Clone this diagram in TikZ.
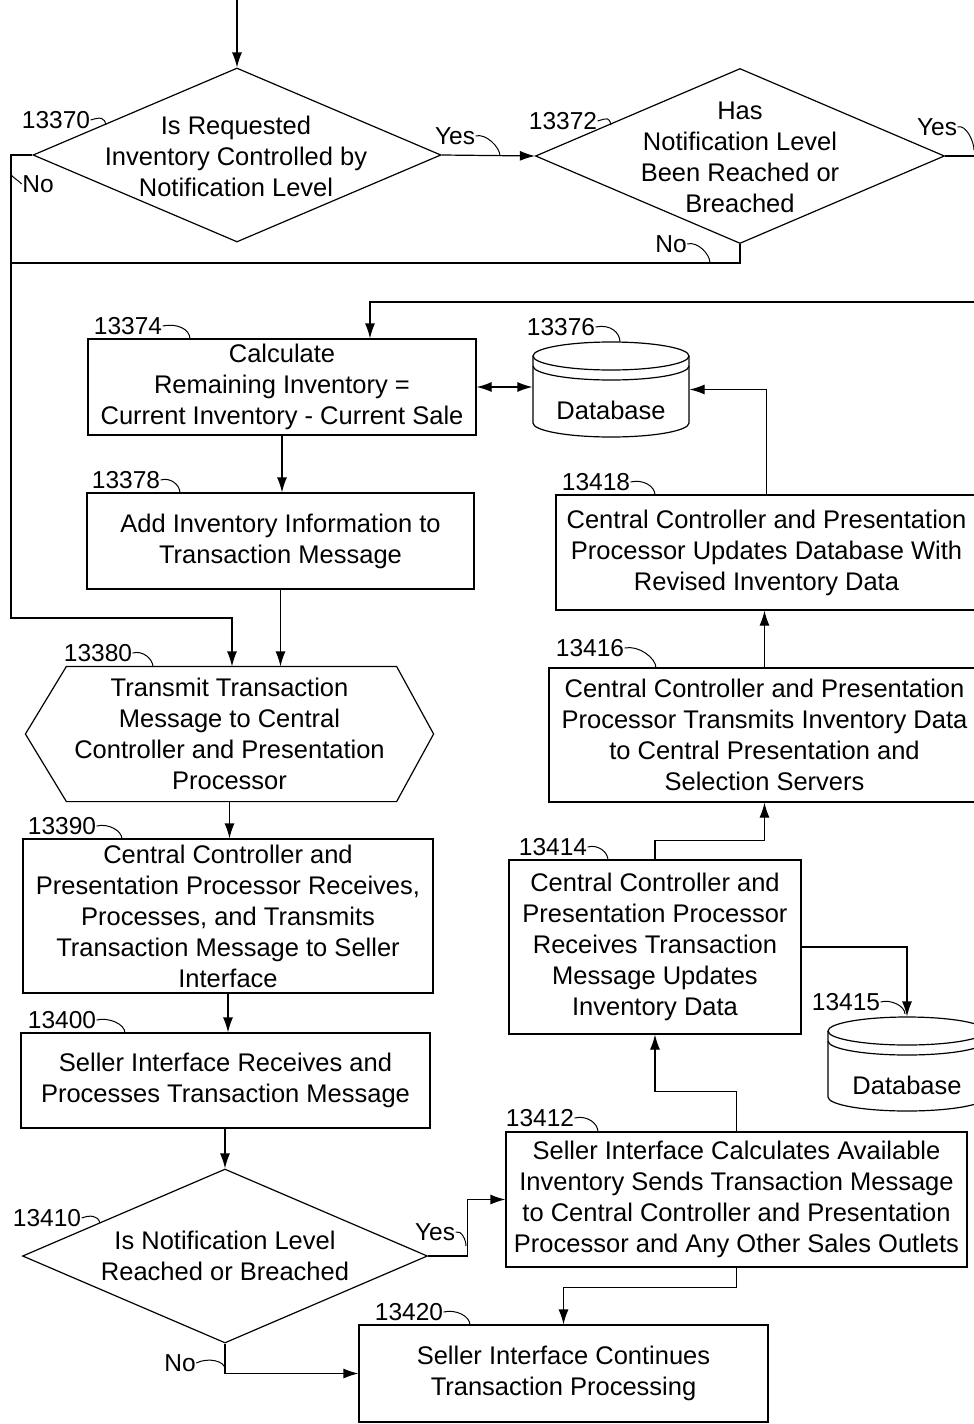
\documentclass[tikz,border=0pt]{standalone}
\usepackage{fontspec}
\setmainfont{Liberation Sans}
\usetikzlibrary{arrows.meta,shapes.geometric,calc}
\newcommand{\dbcyl}[5]{% cx, cy(top ellipse), rx, ry, bottom arc centre y
  \draw[fill=white] ({#1-#3},#2) -- ({#1-#3},#5)
    .. controls ({#1-#3},{#5+0.5523*#4}) and ({#1-0.5523*#3},{#5+#4}) .. ({#1},{#5+#4})
    .. controls ({#1+0.5523*#3},{#5+#4}) and ({#1+#3},{#5+0.5523*#4}) .. ({#1+#3},#5)
    -- ({#1+#3},#2);
  \draw (#1,#2) ellipse [x radius=#3pt, y radius=#4pt];
  \draw ({#1-#3},{#2+10})
    .. controls ({#1-#3},{#2+10+0.5523*#4}) and ({#1-0.5523*#3},{#2+10+#4}) .. ({#1},{#2+10+#4})
    .. controls ({#1+0.5523*#3},{#2+10+#4}) and ({#1+#3},{#2+10+0.5523*#4}) .. ({#1+#3},{#2+10});
}
\begin{document}
\begin{tikzpicture}[x=1pt,y=-1pt,
  line width=1.2pt,
  arr/.style={-{Latex[length=15pt,width=10pt]}},
  barr/.style={{Latex[length=15pt,width=10pt]}-{Latex[length=15pt,width=10pt]}},
  txt/.style={font=\fontsize{25.5}{31}\selectfont, align=center, inner sep=0pt},
  box/.style={draw, rectangle, inner sep=0pt, font=\fontsize{25.5}{31}\selectfont, align=center},
  dia/.style={draw, diamond, inner sep=0pt},
  ref/.style={font=\fontsize{24.5}{28}\selectfont, inner sep=0pt},
  lead/.style={line width=1pt},
]
\fill[white] (0,0) rectangle (974,1424);
\useasboundingbox (0,0) rectangle (974,1424);
\clip (0,0) rectangle (974,1424);

% ---------- shapes ----------
\node[dia, minimum width=408, minimum height=174] (d1) at (237,155) {};
\node[txt] (d1t) at (236,156) {Is Requested\\Inventory Controlled by\\Notification Level};
\node[dia, minimum width=409, minimum height=175] (d2) at (740,156) {};
\node[txt] (d2t) at (740,157) {Has\\Notification Level\\Been Reached or\\Breached};

\node[box, minimum width=388, minimum height=96] (b1) at (282,387) {Calculate\\Remaining Inventory =\\Current Inventory - Current Sale};
\node[minimum width=156, minimum height=95, inner sep=0pt] (db1) at (611,389.5) {};
\dbcyl{611}{356}{78}{14}{423}
\node[txt] (db1t) at (611,410) {Database};

\node[box, minimum width=387, minimum height=96] (b2) at (280.5,541) {Add Inventory Information to\\Transaction Message};

\node[box, draw=none, minimum width=407, minimum height=134] (hex) at (229.5,734) {Transmit Transaction\\Message to Central\\Controller and Presentation\\Processor};
\draw (hex.west) -- ([xshift=41pt]hex.north west) -- ([xshift=-37pt]hex.north east) -- (hex.east)
  -- ([xshift=-37pt]hex.south east) -- ([xshift=41pt]hex.south west) -- cycle;

\node[box, minimum width=410, minimum height=154] (b3) at (228,916) {Central Controller and\\Presentation Processor Receives,\\Processes, and Transmits\\Transaction Message to Seller\\Interface};
\node[box, minimum width=409, minimum height=95] (b4) at (225.5,1080.5) {Seller Interface Receives and\\Processes Transaction Message};

\node[dia, minimum width=405, minimum height=174] (d3) at (225,1256) {};
\node[txt] (d3t) at (225,1256) {Is Notification Level\\Reached or Breached};

\node[box, minimum width=461, minimum height=135] (b5) at (736.5,1199.5) {Seller Interface Calculates Available\\Inventory Sends Transaction Message\\to Central Controller and Presentation\\Processor and Any Other Sales Outlets};
\node[box, minimum width=409, minimum height=97] (b6) at (563.5,1373.5) {Seller Interface Continues\\Transaction Processing};

\node[box, minimum width=292, minimum height=174] (b7) at (655,947) {Central Controller and\\Presentation Processor\\Receives Transaction\\Message Updates\\Inventory Data};
\node[minimum width=158, minimum height=93, inner sep=0pt] (db2) at (907,1063.5) {};
\dbcyl{907}{1031}{79}{14}{1097}
\node[txt] (db2t) at (907,1085) {Database};

\node[box, minimum width=431, minimum height=134] (b8) at (764.5,735) {Central Controller and Presentation\\Processor Transmits Inventory Data\\to Central Presentation and\\Selection Servers};
\node[box, minimum width=421, minimum height=115] (b9) at (766.5,552.5) {Central Controller and Presentation\\Processor Updates Database With\\Revised Inventory Data};

% ---------- connectors ----------
\coordinate (start) at (237,0);
\draw[arr] (start) -- (d1.north);
\draw[arr] (d1.east) -- (d2.west);
\coordinate (yR) at (990,156);
\draw (d2.east) -- (yR);
\coordinate (lt) at (11,155);
\coordinate (lb) at (11,618);
\coordinate (ln) at (11,263);
\coordinate (x232) at (232,0);
\draw[arr] (d1.west) -- (lt) -- (lb) -| (x232 |- hex.north);
\draw (d2.south) |- (ln);
\coordinate (rT) at (990,302);
\coordinate (x370) at (370,0);
\draw[arr] (rT) -| (x370 |- b1.north);
\draw[barr] (b1.east) -- (b1.east -| db1.west);
\draw[arr] (b9.north) |- (db1.east);
\draw[arr] (b1.south) -- (b1.south |- b2.north);
\draw[arr] (b2.south) -- (b2.south |- hex.north);
\draw[arr] (hex.south) -- (hex.south |- b3.north);
\draw[arr] (b3.south) -- (b3.south |- b4.north);
\draw[arr] (b4.south -| d3.north) -- (d3.north);
\draw[arr] (d3.east) -- ++(39,0) |- (b5.west);
\draw[arr] (d3.south) |- (b6.west);
\draw[arr] (b5.south) -- ++(0,20) -| (b6.north);
\draw[arr] (b5.north) -- ++(0,-40) -| (b7.south);
\draw[arr] (b7.east) -| (db2.north);
\draw[arr] (b7.north) -- ++(0,-19) -| (b8.south);
\draw[arr] (b8.north) -- (b8.north |- b9.south);

% ---------- reference numbers and labels ----------
\node[ref] (r13370) at (56,120) {13370};
\draw[lead] (r13370.east) .. controls +(10,-3) and +(-2,-8) .. (106,125);
\node[ref] (r13372) at (563,121) {13372};
\draw[lead] (r13372.east) .. controls +(10,-3) and +(-2,-8) .. (611,125);
\node[ref] (r13374) at (128,326) {13374};
\draw[lead] (r13374.east) .. controls +(14,-3) and +(0,-10) .. (190,339);
\node[ref] (r13376) at (561,327) {13376};
\draw[lead] (r13376.east) .. controls +(14,-3) and +(0,-10) .. (620,342);
\node[ref] (r13378) at (126,480) {13378};
\draw[lead] (r13378.east) .. controls +(10,-3) and +(0,-8) .. (180,493);
\node[ref] (r13418) at (596,482) {13418};
\draw[lead] (r13418.east) .. controls +(12,-3) and +(0,-9) .. (655,495);
\node[ref] (r13416) at (590,648) {13416};
\draw[lead] (r13416.east) .. controls +(14,-3) and +(0,-10) .. (656,668);
\node[ref] (r13380) at (98,653) {13380};
\draw[lead] (r13380.east) .. controls +(10,-3) and +(0,-8) .. (153,667);
\node[ref] (r13390) at (62,826) {13390};
\draw[lead] (r13390.east) .. controls +(12,-3) and +(0,-8) .. (122,839);
\node[ref] (r13414) at (553,847) {13414};
\draw[lead] (r13414.east) .. controls +(10,-3) and +(0,-8) .. (608,860);
\node[ref] (r13415) at (846,1002) {13415};
\draw[lead] (r13415.east) .. controls +(10,-3) and +(0,-8) .. (905,1014);
\node[ref] (r13400) at (62,1020) {13400};
\draw[lead] (r13400.east) .. controls +(12,-3) and +(0,-9) .. (125,1033);
\node[ref] (r13412) at (540,1118) {13412};
\draw[lead] (r13412.east) .. controls +(12,-3) and +(0,-9) .. (598,1132);
\node[ref] (r13410) at (47,1218) {13410};
\draw[lead] (r13410.east) .. controls +(8,-3) and +(-2,-8) .. (100,1223);
\node[ref] (r13420) at (409,1312) {13420};
\draw[lead] (r13420.east) .. controls +(12,-3) and +(0,-9) .. (470,1325);

\node[ref] (yes1) at (455,136) {Yes};
\draw[lead] (yes1.east) .. controls +(10,-3) and +(0,-9) .. (500,156);
\node[ref] (yes2) at (937,127) {Yes};
\draw[lead] (yes2.east) .. controls +(8,-3) and +(0,-9) .. (974,150);
\node[ref] (no1) at (38,184) {No};
\draw[lead] (no1.west) .. controls +(-3,-3) and +(3,3) .. (11,175);
\node[ref] (no2) at (671,244) {No};
\draw[lead] (no2.east) .. controls +(10,-3) and +(0,-9) .. (710,263);
\node[ref] (yes3) at (435,1232) {Yes};
\draw[lead] (yes3.east) .. controls +(6,-2) and +(0,-6) .. (466,1246);
\node[ref] (no3) at (180,1363) {No};
\draw[lead] (no3.east) .. controls +(12,-6) and +(0,-8) .. (225,1369);
\end{tikzpicture}
\end{document}
